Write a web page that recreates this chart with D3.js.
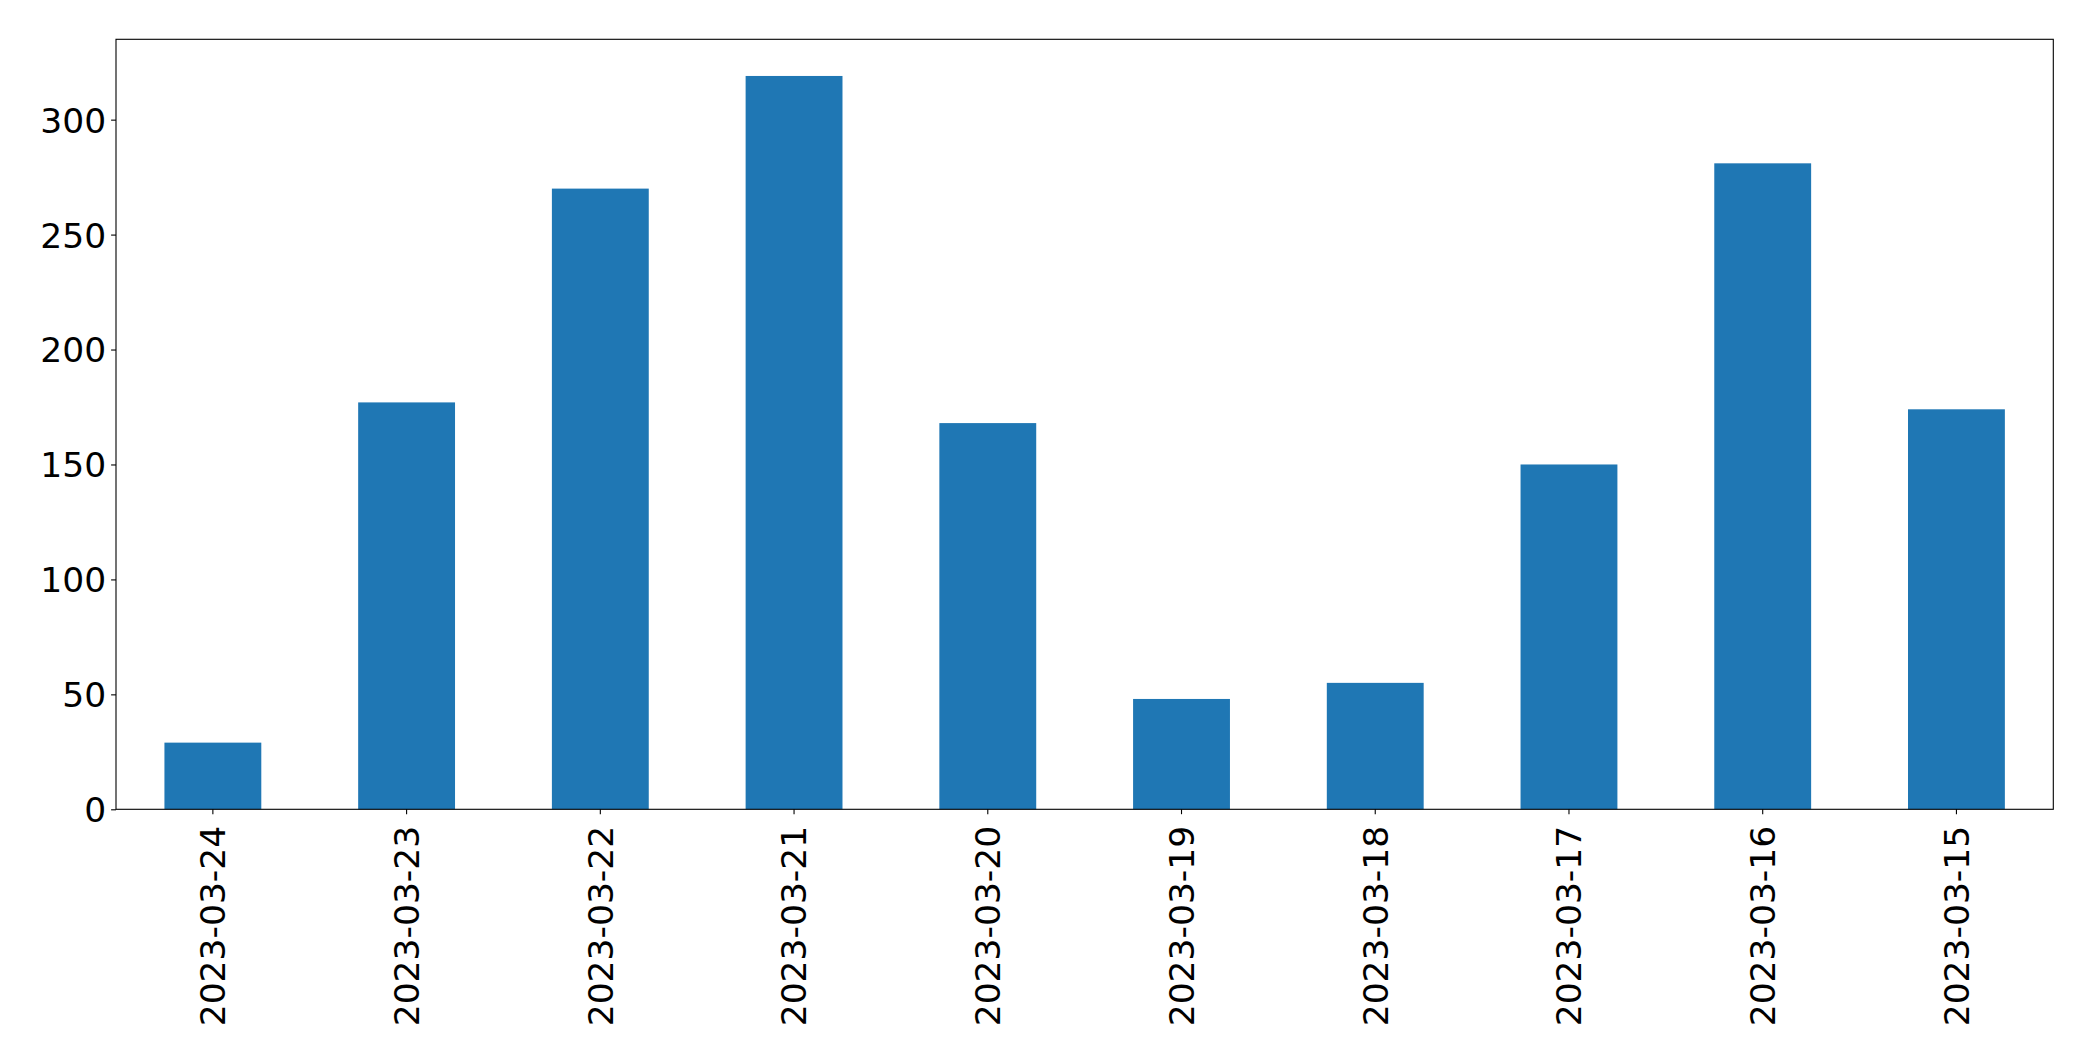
<!DOCTYPE html>
<html>
<head>
<meta charset="utf-8">
<script src="https://cdn.jsdelivr.net/npm/d3@7"></script>
<style>
  html, body { margin: 0; padding: 0; background: #fff; }
  svg { display: block; }
  text { font-family: "DejaVu Sans", sans-serif; fill: #000; }
</style>
</head>
<body>
<svg id="chart" width="2093" height="1061"></svg>
<script>
const categories = ["2023-03-24","2023-03-23","2023-03-22","2023-03-21","2023-03-20","2023-03-19","2023-03-18","2023-03-17","2023-03-16","2023-03-15"];
const values = [29, 177, 270, 319, 168, 48, 55, 150, 281, 174];
const yTicks = [0, 50, 100, 150, 200, 250, 300];

const svg = d3.select("#chart");
const margin = { left: 116, right: 2093 - 2053.3, top: 39.3, bottom: 1061 - 809.3 };
const W = 2093, H = 1061;
const x0 = margin.left, x1 = W - margin.right, y0 = H - margin.bottom, y1 = margin.top;

const x = d3.scaleBand().domain(categories).range([x0, x1]).paddingInner(0.5).paddingOuter(0.25);
const y = d3.scaleLinear().domain([0, d3.max(values) * 1.05]).range([y0, y1]);

svg.append("g").selectAll("rect").data(values).join("rect")
  .attr("x", (d, i) => x(categories[i]))
  .attr("width", x.bandwidth())
  .attr("y", d => y(d))
  .attr("height", d => y0 - y(d))
  .attr("fill", "#1f77b4");

const fontSize = 34.5;
// y axis
const yAxis = d3.axisLeft(y).tickValues(yTicks).tickSize(4.9).tickPadding(4.9).tickFormat(d3.format("d"));
const gy = svg.append("g").attr("transform", `translate(${x0},0)`).call(yAxis);
gy.select(".domain").remove();
gy.selectAll(".tick line").attr("stroke", "#000").attr("stroke-width", 1.1);
gy.selectAll(".tick text").attr("font-size", fontSize).attr("font-family", "DejaVu Sans").attr("dy", "0.36em");

// x axis
const xAxis = d3.axisBottom(x).tickSize(4.9).tickPadding(0);
const gx = svg.append("g").attr("transform", `translate(0,${y0})`).call(xAxis);
gx.select(".domain").remove();
gx.selectAll(".tick line").attr("stroke", "#000").attr("stroke-width", 1.1);
gx.selectAll(".tick text")
  .attr("font-size", fontSize).attr("font-family", "DejaVu Sans")
  .attr("text-anchor", "end")
  .attr("y", 0).attr("x", 0).attr("dy", "0.36em")
  .attr("transform", "translate(0,16.5) rotate(-90)");

// frame
svg.append("rect").attr("x", x0).attr("y", y1).attr("width", x1 - x0).attr("height", y0 - y1)
  .attr("fill", "none").attr("stroke", "#000").attr("stroke-width", 1.1);
</script>
</body>
</html>
